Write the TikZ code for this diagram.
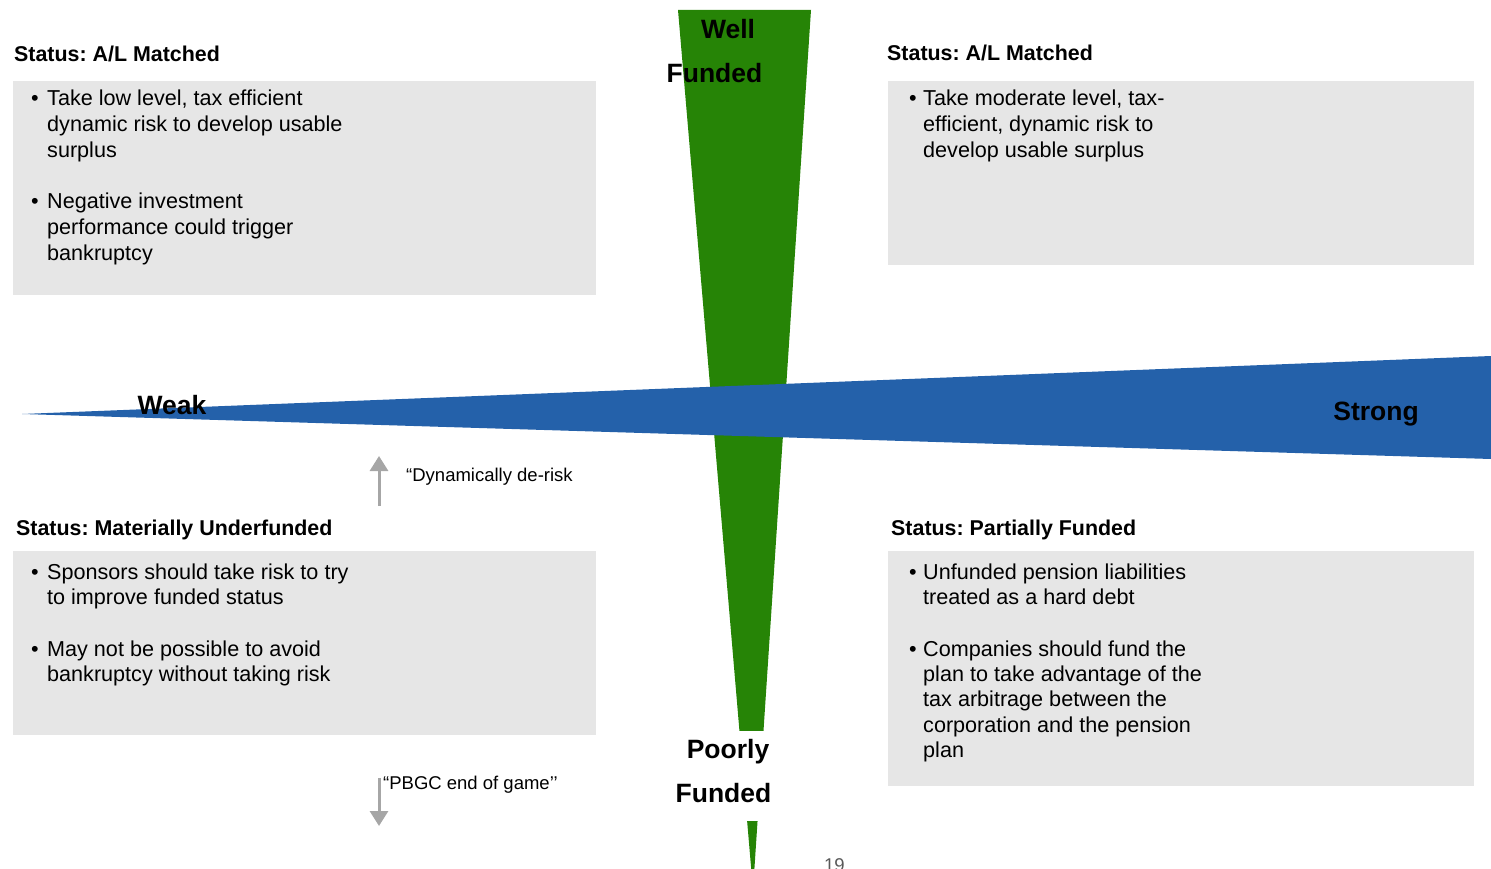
\documentclass[tikz,border=0pt]{standalone}
\usepackage{fontspec}
\setmainfont{Liberation Sans}
\usetikzlibrary{arrows.meta}
\definecolor{wedgegreen}{RGB}{38,132,6}
\definecolor{axisblue}{RGB}{36,97,170}
\definecolor{panelgray}{RGB}{230,230,230}
\definecolor{arrowgray}{RGB}{166,166,166}
\definecolor{pagegray}{RGB}{89,89,89}
\frenchspacing

\begin{document}
\begin{tikzpicture}[x=1pt,y=-1pt,
  panel/.style={fill=panelgray,draw=none},
  title/.style={anchor=base west,inner sep=0pt,font=\fontsize{21.4}{25}\selectfont\bfseries},
  body/.style={anchor=base west,inner sep=0pt,font=\fontsize{21.6}{25}\selectfont},
  axislabel/.style={anchor=base,inner sep=0pt,font=\fontsize{26.5}{30}\selectfont\bfseries},
  note/.style={anchor=base west,inner sep=0pt,font=\fontsize{18.5}{22}\selectfont},
  move/.style={draw=arrowgray,line width=3pt,-{Triangle[width=18pt,length=15pt]}}]

\useasboundingbox (0,0) rectangle (1491,869);
\clip (0,0) rectangle (1491,869);

% vertical funding axis
\fill[wedgegreen] (678,10) -- (811,10) -- (753,890) -- cycle;
% horizontal sponsor strength axis
\fill[axisblue] (22,414) -- (1491,356) -- (1491,459) -- cycle;
% gap behind the lower axis label
\fill[white] (700,731) rectangle (800,821);

% axis labels
\node[axislabel] (well)    at (728,38.5)  {Well};
\node[axislabel] (wfunded) at (714.5,82.5) {Funded};
\node[axislabel] (poorly)  at (728,758)   {Poorly};
\node[axislabel] (pfunded) at (723.5,802.5) {Funded};
\node[axislabel] (weak)    at (172,414.5) {Weak};
\node[axislabel] (strong)  at (1376,420.5) {Strong};

% top left quadrant
\node[title] (tlt) at (14,62) {Status: A/L Matched};
\fill[panelgray] (13,81) rectangle (596,295);
\node[body] (tlb1) at (31,106) {•};
\node[body] (tl1) at (47,106) {Take low level, tax efficient};
\node[body] (tl2) at (47,132) {dynamic risk to develop usable};
\node[body] (tl3) at (47,158) {surplus};
\node[body] (tlb2) at (31,208) {•};
\node[body] (tl4) at (47,208) {Negative investment};
\node[body] (tl5) at (47,234) {performance could trigger};
\node[body] (tl6) at (47,260) {bankruptcy};

% top right quadrant
\node[title] (trt) at (887,61) {Status: A/L Matched};
\fill[panelgray] (888,81) rectangle (1474,265);
\node[body] (trb1) at (909,106) {•};
\node[body] (tr1) at (923,106) {Take moderate level, tax-};
\node[body] (tr2) at (923,132) {efficient, dynamic risk to};
\node[body] (tr3) at (923,158) {develop usable surplus};

% bottom left quadrant
\node[title] (blt) at (16,535) {Status: Materially Underfunded};
\fill[panelgray] (13,551) rectangle (596,735);
\node[body] (blb1) at (31,579) {•};
\node[body] (bl1) at (47,579) {Sponsors should take risk to try};
\node[body] (bl2) at (47,604) {to improve funded status};
\node[body] (blb2) at (31,656) {•};
\node[body] (bl3) at (47,656) {May not be possible to avoid};
\node[body] (bl4) at (47,681) {bankruptcy without taking risk};

% bottom right quadrant
\node[title] (brt) at (891,535) {Status: Partially Funded};
\fill[panelgray] (888,551) rectangle (1474,786);
\node[body] (brb1) at (909,579) {•};
\node[body] (br1) at (923,579) {Unfunded pension liabilities};
\node[body] (br2) at (923,604) {treated as a hard debt};
\node[body] (brb2) at (909,656) {•};
\node[body] (br3) at (923,656) {Companies should fund the};
\node[body] (br4) at (923,681) {plan to take advantage of the};
\node[body] (br5) at (923,706) {tax arbitrage between the};
\node[body] (br6) at (923,732) {corporation and the pension};
\node[body] (br7) at (923,757) {plan};

% movement arrows
\coordinate (upfrom) at (379,506);
\coordinate (upto)   at (379,456);
\draw[move] (upfrom) -- (upto);
\node[note] (derisk) at (406,481) {“Dynamically de-risk};
\coordinate (downfrom) at (379,778);
\coordinate (downto)   at (379,826);
\draw[move] (downfrom) -- (downto);
\node[note] (pbgc) at (383,789) {“PBGC end of game’’};

% page number
\node[note,text=pagegray] (pageno) at (824,871) {19};
\end{tikzpicture}
\end{document}
